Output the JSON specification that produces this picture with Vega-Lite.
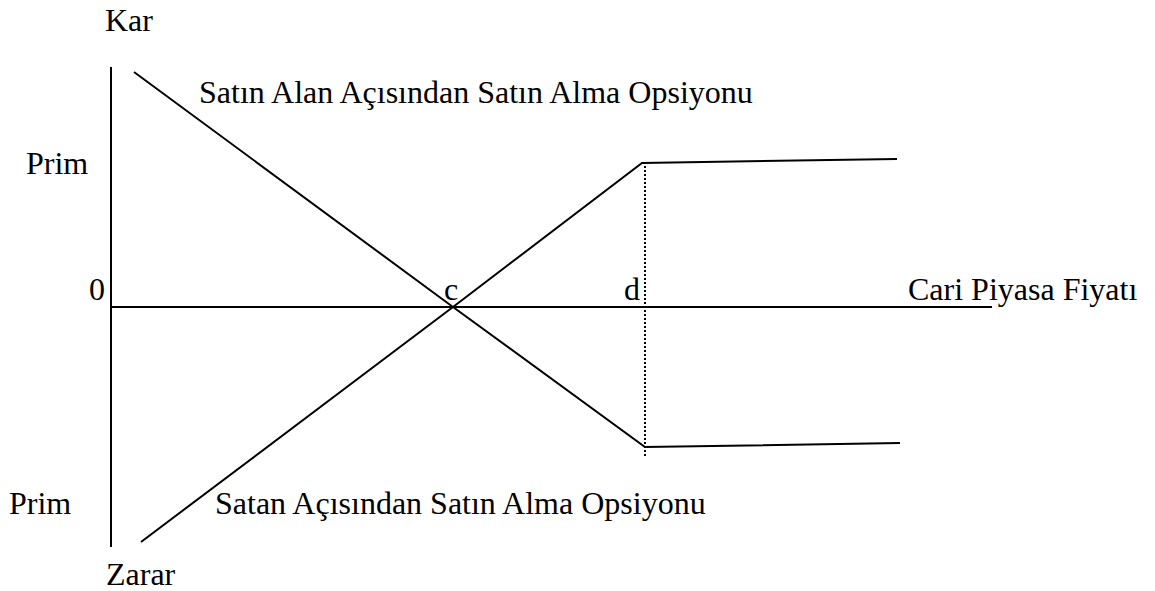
{
  "$schema": "https://vega.github.io/schema/vega-lite/v6.json",
  "width": 1155,
  "height": 591,
  "padding": 0,
  "autosize": {"type": "fit", "contains": "padding"},
  "background": "white",
  "config": {"view": {"stroke": null}},
  "datasets": {
    "solid": [
      {"series": "Kar/Zarar ekseni", "order": 1, "x": 0, "y": 240},
      {"series": "Kar/Zarar ekseni", "order": 2, "x": 0, "y": -240},
      {"series": "Fiyat ekseni", "order": 1, "x": 0, "y": 0},
      {"series": "Fiyat ekseni", "order": 2, "x": 881, "y": 0},
      {"series": "Satın Alan", "order": 1, "x": 23, "y": 235},
      {"series": "Satın Alan", "order": 2, "x": 342, "y": 0},
      {"series": "Satın Alan", "order": 3, "x": 534, "y": -140},
      {"series": "Satın Alan", "order": 4, "x": 789, "y": -136},
      {"series": "Satan", "order": 1, "x": 30, "y": -235},
      {"series": "Satan", "order": 2, "x": 342, "y": 0},
      {"series": "Satan", "order": 3, "x": 531, "y": 144},
      {"series": "Satan", "order": 4, "x": 786, "y": 148}
    ],
    "dotted": [
      {"series": "d", "order": 1, "x": 534, "y": 141},
      {"series": "d", "order": 2, "x": 534, "y": -151}
    ],
    "labels": [
      {"text": "Kar", "x": -6, "y": 276, "align": "left"},
      {"text": "Satın Alan Açısından Satın Alma Opsiyonu", "x": 88, "y": 204, "align": "left"},
      {"text": "Prim", "x": -85, "y": 133, "align": "left"},
      {"text": "0", "x": -22, "y": 7, "align": "left"},
      {"text": "c", "x": 340, "y": 7, "align": "center"},
      {"text": "d", "x": 521, "y": 7, "align": "center"},
      {"text": "Cari Piyasa Fiyatı", "x": 797, "y": 7, "align": "left"},
      {"text": "Prim", "x": -102, "y": -207, "align": "left"},
      {"text": "Satan Açısından Satın Alma Opsiyonu", "x": 104, "y": -207, "align": "left"},
      {"text": "Zarar", "x": -5, "y": -278, "align": "left"}
    ]
  },
  "layer": [
    {
      "data": {"name": "solid"},
      "mark": {"type": "line", "color": "black", "strokeWidth": 2},
      "encoding": {
        "x": {"field": "x", "type": "quantitative", "scale": {"domain": [-111, 1044], "nice": false, "zero": false}, "axis": null},
        "y": {"field": "y", "type": "quantitative", "scale": {"domain": [-284, 307], "nice": false, "zero": false}, "axis": null},
        "detail": {"field": "series"},
        "order": {"field": "order"}
      }
    },
    {
      "data": {"name": "dotted"},
      "mark": {"type": "line", "color": "black", "strokeWidth": 2, "strokeDash": [2, 2]},
      "encoding": {
        "x": {"field": "x", "type": "quantitative"},
        "y": {"field": "y", "type": "quantitative"},
        "order": {"field": "order"}
      }
    },
    {
      "data": {"name": "labels"},
      "transform": [{"filter": "datum.align == 'left'"}],
      "mark": {"type": "text", "font": "Liberation Serif", "fontSize": 32, "align": "left", "baseline": "alphabetic", "color": "black"},
      "encoding": {
        "x": {"field": "x", "type": "quantitative"},
        "y": {"field": "y", "type": "quantitative"},
        "text": {"field": "text"}
      }
    },
    {
      "data": {"name": "labels"},
      "transform": [{"filter": "datum.align == 'center'"}],
      "mark": {"type": "text", "font": "Liberation Serif", "fontSize": 32, "align": "center", "baseline": "alphabetic", "color": "black"},
      "encoding": {
        "x": {"field": "x", "type": "quantitative"},
        "y": {"field": "y", "type": "quantitative"},
        "text": {"field": "text"}
      }
    }
  ]
}
